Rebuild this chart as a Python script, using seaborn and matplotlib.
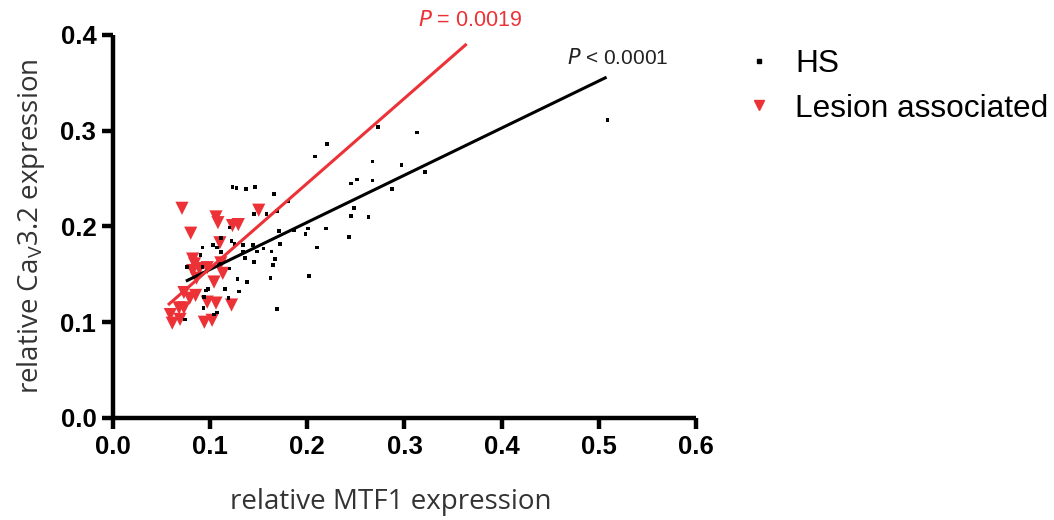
import matplotlib
matplotlib.use("Agg")
import matplotlib.pyplot as plt
from matplotlib.lines import Line2D
import numpy as np
import pandas as pd
import seaborn as sns

# HS samples: relative MTF1 (x) vs relative CaV3.2 (y)
hs_mtf1 = [0.509, 0.273, 0.313, 0.220, 0.208, 0.267, 0.297, 0.321, 0.245, 0.251,
           0.267, 0.287, 0.248, 0.245, 0.263, 0.186, 0.201, 0.219, 0.198, 0.243,
           0.210, 0.202, 0.123, 0.127, 0.137, 0.146, 0.166, 0.180, 0.145, 0.158,
           0.169, 0.120, 0.111, 0.122, 0.125, 0.134, 0.144, 0.171, 0.092, 0.103,
           0.111, 0.090, 0.134, 0.148, 0.155, 0.163, 0.136, 0.167, 0.145, 0.165,
           0.076, 0.092, 0.109, 0.120, 0.128, 0.162, 0.138, 0.098, 0.096, 0.115,
           0.094, 0.130, 0.119, 0.093, 0.107, 0.104, 0.074, 0.169, 0.172, 0.107]
hs_cav32 = [0.311, 0.304, 0.298, 0.286, 0.273, 0.268, 0.264, 0.257, 0.245, 0.249,
            0.248, 0.239, 0.219, 0.211, 0.210, 0.196, 0.198, 0.198, 0.192, 0.189,
            0.178, 0.148, 0.241, 0.240, 0.239, 0.241, 0.234, 0.226, 0.213, 0.213,
            0.216, 0.199, 0.188, 0.185, 0.182, 0.181, 0.181, 0.195, 0.178, 0.181,
            0.173, 0.170, 0.173, 0.174, 0.177, 0.174, 0.167, 0.166, 0.163, 0.160,
            0.158, 0.158, 0.161, 0.156, 0.145, 0.146, 0.142, 0.135, 0.133, 0.135,
            0.126, 0.132, 0.125, 0.115, 0.110, 0.108, 0.103, 0.114, 0.182, 0.178]

# Lesion-associated samples
les_mtf1 = [0.071, 0.106, 0.108, 0.080, 0.123, 0.129, 0.150, 0.110, 0.082, 0.084,
            0.089, 0.082, 0.097, 0.111, 0.113, 0.104, 0.086, 0.073, 0.079, 0.085,
            0.097, 0.106, 0.122, 0.068, 0.073, 0.059, 0.069, 0.061, 0.094, 0.102]
les_cav32 = [0.219, 0.210, 0.204, 0.193, 0.201, 0.202, 0.217, 0.183, 0.166, 0.161,
             0.156, 0.154, 0.157, 0.162, 0.151, 0.142, 0.146, 0.131, 0.125, 0.128,
             0.121, 0.120, 0.118, 0.115, 0.115, 0.108, 0.103, 0.099, 0.100, 0.102]

# Linear fits (slope, intercept) and the x-range each fit line spans
hs_fit = [0.492, 0.106]
hs_fit_range = [0.075, 0.508]
les_fit = [0.887, 0.0678]
les_fit_range = [0.0566, 0.364]

x_ticks = [0.0, 0.1, 0.2, 0.3, 0.4, 0.5, 0.6]
y_ticks = [0.0, 0.1, 0.2, 0.3, 0.4]

RED = "#ED3237"

sns.set_theme(style="ticks")
plt.rcParams["font.family"] = ["Liberation Sans", "DejaVu Sans"]
plt.rcParams.update({
    "text.color": "black",
    "axes.edgecolor": "black",
    "xtick.color": "black",
    "ytick.color": "black",
    "xtick.labelcolor": "black",
    "ytick.labelcolor": "black",
})

hs_df = pd.DataFrame({"MTF1": hs_mtf1, "CaV32": hs_cav32})
les_df = pd.DataFrame({"MTF1": les_mtf1, "CaV32": les_cav32})

fig = plt.figure(figsize=(10.54, 5.2), dpi=100)
ax = fig.add_axes([0.1072, 0.1962, 0.5531, 0.7365])

sns.scatterplot(data=les_df, x="MTF1", y="CaV32", marker="v", s=90,
                color=RED, edgecolor="none", ax=ax, zorder=3, clip_on=False)
sns.scatterplot(data=hs_df, x="MTF1", y="CaV32", marker="s", s=7,
                color="black", edgecolor="none", ax=ax, zorder=4, clip_on=False)

hx = np.array(hs_fit_range)
lx = np.array(les_fit_range)
ax.plot(hx, hs_fit[0] * hx + hs_fit[1], color="black", lw=2.2, zorder=5,
        clip_on=False, solid_capstyle="butt")
ax.plot(lx, les_fit[0] * lx + les_fit[1], color=RED, lw=2.2, zorder=6,
        clip_on=False, solid_capstyle="butt")

ax.text(0.368, 0.404, r"$\it{P}$ = 0.0019", color=RED, fontsize=15.5,
        ha="center", va="bottom")
ax.text(0.467, 0.366, r"$\it{P}$ < 0.0001", color="#222222", fontsize=15,
        ha="left", va="bottom")

ax.set_xlim(0, 0.6)
ax.set_ylim(0, 0.4)
ax.set_xticks(x_ticks)
ax.set_yticks(y_ticks)
ax.set_xticklabels([f"{v:.1f}" for v in x_ticks])
ax.set_yticklabels([f"{v:.1f}" for v in y_ticks])
for lab in ax.get_xticklabels() + ax.get_yticklabels():
    lab.set_fontweight("bold")
    lab.set_fontsize(18.5)
    lab.set_color("black")

sns.despine(ax=ax)
for side in ("left", "bottom"):
    ax.spines[side].set_linewidth(3.2)
    ax.spines[side].set_capstyle("butt")
    ax.spines[side].set_color("black")
ax.tick_params(axis="both", direction="out", length=8, width=3.2,
               color="black", pad=4)

ax.set_xlabel("relative MTF1 expression", fontsize=20, color="#333333",
              family=["Open Sans", "DejaVu Sans"], labelpad=21)
ax.xaxis.label.set_x(0.477)
ax.set_ylabel(r"relative Ca$_\mathregular{V}$3.2 expression", fontsize=20,
              color="#333333", family=["Open Sans", "DejaVu Sans"], labelpad=10)

handles = [
    Line2D([], [], marker="s", linestyle="none", color="black", markersize=2.5),
    Line2D([], [], marker="v", linestyle="none", color=RED, markersize=7),
]
leg = ax.legend(handles, ["HS", "Lesion associated"], loc="upper left",
                bbox_to_anchor=(1.026, 1.037), frameon=False, fontsize=22.8,
                handletextpad=0.55, labelspacing=0.45, handlelength=1.2)
for t in leg.get_texts():
    t.set_color("black")

fig.savefig("out.png", dpi=100)
